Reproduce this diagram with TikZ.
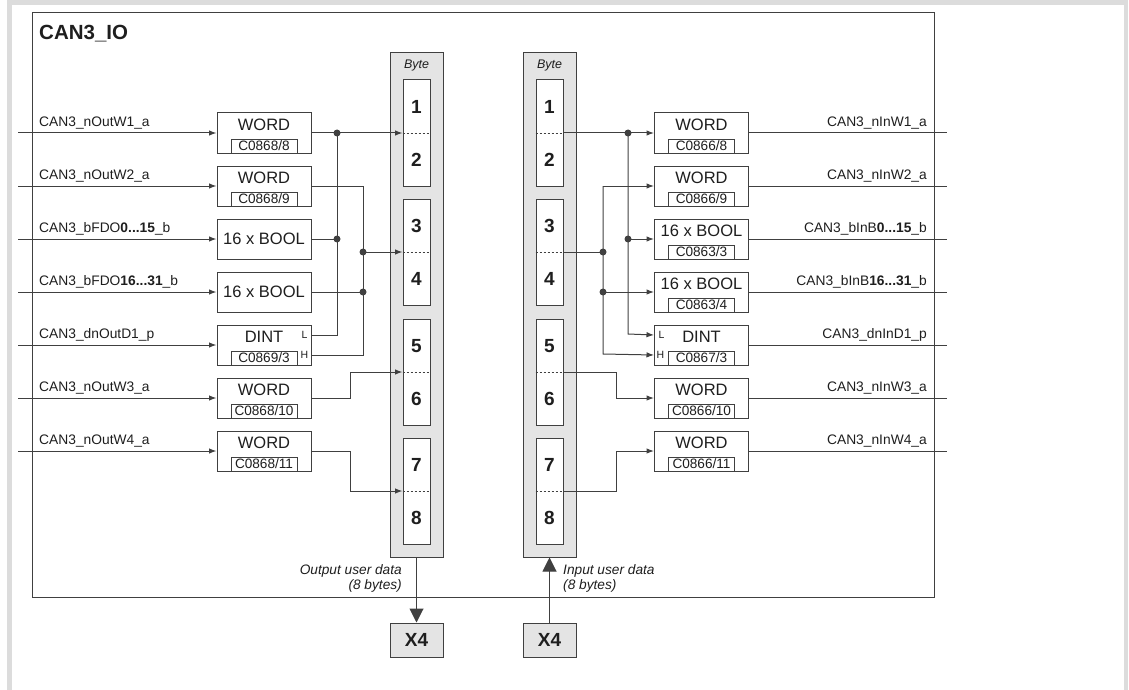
\documentclass[tikz,border=0pt]{standalone}
\usepackage{fontspec}
\setmainfont{Liberation Sans}
\usetikzlibrary{arrows.meta}
\definecolor{linec}{HTML}{404040}
\definecolor{txtc}{HTML}{1E1E1E}
\definecolor{colfill}{HTML}{E4E4E4}
\definecolor{framec}{HTML}{DCDCDC}
\begin{document}
\begin{tikzpicture}[x=1pt,y=-1pt,
  every node/.style={text=txtc, inner sep=0pt},
  ln/.style={draw=linec, line width=1pt},
  arr/.style={ln, -{Latex[length=7.5pt,width=5.5pt]}},
  bigarr/.style={draw=linec, line width=1pt, -{Triangle[length=14pt,width=14pt]}},
  blk/.style={draw=linec, line width=1pt, fill=white, minimum width=94pt, minimum height=40pt},
  subbox/.style={draw=linec, line width=0.9pt, minimum width=66pt, minimum height=14pt, font=\fontsize{13.6}{14}\selectfont},
  typ/.style={font=\fontsize{16.5}{18}\selectfont},
  sig/.style={font=\fontsize{13.8}{16}\selectfont},
  lh/.style={font=\fontsize{10.5}{12}\selectfont},
  num/.style={font=\bfseries\fontsize{19}{22}\selectfont},
  bytecol/.style={draw=linec, line width=1pt, fill=colfill, minimum width=53pt, minimum height=504pt},
  cell/.style={draw=linec, line width=1pt, fill=white, minimum width=27pt, minimum height=106pt},
  divline/.style={draw=linec, line width=0.8pt, dash pattern=on 2.5pt off 1.5pt},
  ital/.style={font=\itshape\fontsize{13.7}{16}\selectfont},
  bytel/.style={font=\itshape\fontsize{12.5}{14}\selectfont},
  dot/.style={circle, fill=linec, minimum size=7pt},
  xbox/.style={draw=linec, line width=1pt, fill=colfill, minimum width=53pt, minimum height=34pt, font=\bfseries\fontsize{19}{22}\selectfont},
  mainbox/.style={draw=linec, line width=1pt, minimum width=902pt, minimum height=584pt}
]
\useasboundingbox (0,0) rectangle (1129,690);
% page frame
\draw[framec, line width=4.5pt] (9.5,690) -- (9.5,2.5) -- (1126,2.5) -- (1126,690);

% main box
\node[mainbox] (main) at (483,305) {};
\node[font=\bfseries\fontsize{20.5}{22}\selectfont, anchor=base west] (title) at (39,40) {CAN3\_IO};

% byte columns
\node[bytecol] (colL) at (416.5,305) {};
\node[bytecol] (colR) at (549.5,305) {};
\node[bytel] (byteL) at (416.5,65) {Byte};
\node[bytel] (byteR) at (549.5,65) {Byte};
\foreach \i/\y/\a/\b in {1/133/1/2, 2/252/3/4, 3/372/5/6, 4/491/7/8}{
  \node[cell] (cL\i) at (416.5,\y) {};
  \node[cell] (cR\i) at (549.5,\y) {};
  \draw[divline] (cL\i.west) -- (cL\i.east);
  \draw[divline] (cR\i.west) -- (cR\i.east);
  \node[num] (nL\a) at (416.5,\y-26) {\a};
  \node[num] (nL\b) at (416.5,\y+27) {\b};
  \node[num] (nR\a) at (549.5,\y-26) {\a};
  \node[num] (nR\b) at (549.5,\y+27) {\b};
}

% ---------- left blocks ----------
\node[blk] (L1) at (264,133) {};
\node[typ] (L1t) at (264,124.7) {WORD};
\node[subbox, anchor=south] (L1s) at (L1.south) {C0868/8};
\node[blk] (L2) at (264,186) {};
\node[typ] (L2t) at (264,177.7) {WORD};
\node[subbox, anchor=south] (L2s) at (L2.south) {C0868/9};
\node[blk, typ] (L3) at (264,239) {16 x BOOL};
\node[blk, typ] (L4) at (264,292) {16 x BOOL};
\node[blk] (L5) at (264,345) {};
\node[typ] (L5t) at (264,336.7) {DINT};
\node[subbox, anchor=south] (L5s) at (L5.south) {C0869/3};
\node[lh] (L5L) at (304.5,335) {L};
\node[lh] (L5H) at (304.5,354.5) {H};
\node[blk] (L6) at (264,398) {};
\node[typ] (L6t) at (264,389.7) {WORD};
\node[subbox, anchor=south] (L6s) at (L6.south) {C0868/10};
\node[blk] (L7) at (264,451) {};
\node[typ] (L7t) at (264,442.7) {WORD};
\node[subbox, anchor=south] (L7s) at (L7.south) {C0868/11};

% left signal labels and inputs
\foreach \i/\y/\t in {1/133/{CAN3\_nOutW1\_a}, 2/186/{CAN3\_nOutW2\_a},
  3/239/{CAN3\_bFDO\textbf{0...15}\_b}, 4/292/{CAN3\_bFDO\textbf{16...31}\_b},
  5/345/{CAN3\_dnOutD1\_p}, 6/398/{CAN3\_nOutW3\_a}, 7/451/{CAN3\_nOutW4\_a}}{
  \node[sig, anchor=base west] (sL\i) at (39,\y-6.5) {\t};
  \coordinate (iL\i) at (18,\y);
  \draw[arr] (iL\i) -- (L\i.west);
}

% ---------- right blocks ----------
\node[blk] (R1) at (701.5,133) {};
\node[typ] (R1t) at (701.5,124.7) {WORD};
\node[subbox, anchor=south] (R1s) at (R1.south) {C0866/8};
\node[blk] (R2) at (701.5,186) {};
\node[typ] (R2t) at (701.5,177.7) {WORD};
\node[subbox, anchor=south] (R2s) at (R2.south) {C0866/9};
\node[blk] (R3) at (701.5,239) {};
\node[typ] (R3t) at (701.5,230.7) {16 x BOOL};
\node[subbox, anchor=south] (R3s) at (R3.south) {C0863/3};
\node[blk] (R4) at (701.5,292) {};
\node[typ] (R4t) at (701.5,283.7) {16 x BOOL};
\node[subbox, anchor=south] (R4s) at (R4.south) {C0863/4};
\node[blk] (R5) at (701.5,345) {};
\node[typ] (R5t) at (701.5,336.7) {DINT};
\node[subbox, anchor=south] (R5s) at (R5.south) {C0867/3};
\node[lh] (R5L) at (661.5,335) {L};
\node[lh] (R5H) at (660.5,354.5) {H};
\node[blk] (R6) at (701.5,398) {};
\node[typ] (R6t) at (701.5,389.7) {WORD};
\node[subbox, anchor=south] (R6s) at (R6.south) {C0866/10};
\node[blk] (R7) at (701.5,451) {};
\node[typ] (R7t) at (701.5,442.7) {WORD};
\node[subbox, anchor=south] (R7s) at (R7.south) {C0866/11};

\foreach \i/\y/\t in {1/133/{CAN3\_nInW1\_a}, 2/186/{CAN3\_nInW2\_a},
  3/239/{CAN3\_bInB\textbf{0...15}\_b}, 4/292/{CAN3\_bInB\textbf{16...31}\_b},
  5/345/{CAN3\_dnInD1\_p}, 6/398/{CAN3\_nInW3\_a}, 7/451/{CAN3\_nInW4\_a}}{
  \node[sig, anchor=base east] (sR\i) at (927,\y-6.5) {\t};
  \coordinate (oR\i) at (947,\y);
  \draw[ln] (R\i.east) -- (oR\i);
}

% ---------- left connections ----------
\coordinate (L5l) at ([yshift=10pt]L5.east);
\coordinate (L5h) at ([yshift=-10pt]L5.east);
\coordinate (jA1) at (337,133);
\coordinate (jA3) at (337,239);
\coordinate (jAe) at (337,335);
\coordinate (jB2) at (363,186);
\coordinate (jB34) at (363,252);
\coordinate (jB4) at (363,292);
\coordinate (jBe) at (363,355);
\draw[arr] (L1.east) -- (cL1.west);
\draw[ln] (jA1) -- (jAe) -- (L5l);
\draw[ln] (L3.east) -- (jA3);
\draw[ln] (L2.east) -- (jB2) -- (jBe) -- (L5h);
\draw[ln] (L4.east) -- (jB4);
\draw[arr] (jB34) -- (cL2.west);
\draw[arr] (L6.east) -- ++(39,0) |- (cL3.west);
\draw[arr] (L7.east) -- ++(39,0) |- (cL4.west);
\node[dot] (dA1) at (jA1) {};
\node[dot] (dA3) at (jA3) {};
\node[dot] (dB34) at (jB34) {};
\node[dot] (dB4) at (jB4) {};

% ---------- right connections ----------
\coordinate (R5l) at ([yshift=10pt]R5.west);
\coordinate (R5h) at ([yshift=-10pt]R5.west);
\coordinate (kA1) at (628,133);
\coordinate (kA3) at (628,239);
\coordinate (kAe) at (628,334);
\coordinate (kB2) at (603,186);
\coordinate (kB34) at (603,252);
\coordinate (kB4) at (603,292);
\coordinate (kBe) at (603,354);
\draw[arr] (cR1.east) -- (R1.west);
\draw[arr] (kA1) -- (kAe) -- (R5l);
\draw[arr] (kA3) -- (R3.west);
\draw[ln] (cR2.east) -- (kB34);
\draw[arr] (kB2) -- (kBe) -- (R5h);
\draw[arr] (kB2) -- (R2.west);
\draw[arr] (kB4) -- (R4.west);
\draw[arr] (cR3.east) -- ++(53,0) |- (R6.west);
\draw[arr] (cR4.east) -- ++(53,0) |- (R7.west);
\node[dot] (eA1) at (kA1) {};
\node[dot] (eA3) at (kA3) {};
\node[dot] (eB34) at (kB34) {};
\node[dot] (eB4) at (kB4) {};

% ---------- X4 connectors ----------
\node[xbox] (X4L) at (416.5,640) {X4};
\node[xbox] (X4R) at (549.5,640) {X4};
\draw[bigarr] (colL.south) -- (X4L.north);
\draw[bigarr] (X4R.north) -- (colR.south);
\node[ital, anchor=base east] (outl1) at (402,574) {Output user data};
\node[ital, anchor=base east] (outl2) at (402,589.5) {(8 bytes)};
\node[ital, anchor=base west] (inl1) at (563,574) {Input user data};
\node[ital, anchor=base west] (inl2) at (563,589.5) {(8 bytes)};
\end{tikzpicture}
\end{document}
